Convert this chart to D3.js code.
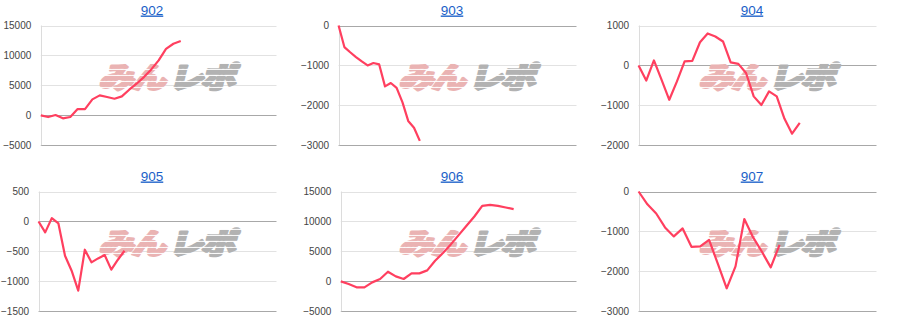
<!DOCTYPE html>
<html>
<head>
<meta charset="utf-8">
<title></title>
<script src="https://cdnjs.cloudflare.com/ajax/libs/d3/7.8.5/d3.min.js"></script>
<style>
  body { margin: 0; background: #fff; }
  text { font-family: Arial, "Liberation Sans", sans-serif; }
</style>
</head>
<body>
<div id="charts"></div>
<script>
// machine numbers shown as chart titles
var titles = ["902", "903", "904", "905", "906", "907"];

// balance per game
var values902 = [0, -280, 50, -500, -280, 1050, 1050, 2670, 3330, 3060, 2780, 3170, 4280, 5280, 6390, 7670, 9170, 11100, 11950, 12400];
var values903 = [0, -540, -670, -790, -900, -1000, -940, -975, -1525, -1440, -1560, -1920, -2390, -2560, -2890];
var values904 = [0, -380, 125, -360, -860, -400, 100, 115, 580, 800, 725, 600, 75, 40, -190, -775, -990, -650, -775, -1330, -1710, -1440];
var values905 = [0, -183, 55, -33, -572, -822, -1155, -472, -683, -617, -561, -805, -639, -489];
var values906 = [0, -440, -1000, -1000, -170, 390, 1610, 830, 390, 1330, 1330, 1830, 3440, 4720, 6170, 7720, 9280, 10830, 12610, 12780, 12610, 12330, 12060];
var values907 = [0, -320, -550, -900, -1125, -925, -1385, -1375, -1210, -1815, -2425, -1875, -690, -1150, -1510, -1900, -1335];

// y axis ticks of each chart
var ticks902 = [-5000, 0, 5000, 10000, 15000];
var ticks903 = [-3000, -2000, -1000, 0];
var ticks904 = [-2000, -1000, 0, 1000];
var ticks905 = [-1500, -1000, -500, 0, 500];
var ticks906 = [-5000, 0, 5000, 10000, 15000];
var ticks907 = [-3000, -2000, -1000, 0];

// length of the x axis (in games) of each chart
var xSpans = [32, 41, 31, 36, 30, 27];

var series = [values902, values903, values904, values905, values906, values907];
var ticks = [ticks902, ticks903, ticks904, ticks905, ticks906, ticks907];

var W = 900, H = 332, panelW = 300, panelH = 166;

var svg = d3.select("#charts").append("svg")
  .attr("width", W)
  .attr("height", H);

// striped fills for the logo
var defs = svg.append("defs");
function stripes(id, color) {
  var p = defs.append("pattern")
    .attr("id", id)
    .attr("patternUnits", "userSpaceOnUse")
    .attr("width", 8)
    .attr("height", 6);
  p.append("rect").attr("width", 8).attr("height", 5).attr("fill", color);
}
stripes("pinkStripe", "#eab3b3");
stripes("grayStripe", "#b2b2b2");

titles.forEach(function(title, i) {
  var col = i % 3, row = Math.floor(i / 3);
  var g = svg.append("g")
    .attr("transform", "translate(" + (col * panelW) + "," + (row * panelH) + ")");

  var tk = ticks[i];

  // measure widest label to place the chart area
  var probe = g.append("text").style("font-size", "10px");
  var maxW = 0;
  tk.forEach(function(t) {
    probe.text(t);
    maxW = Math.max(maxW, probe.node().getComputedTextLength());
  });
  probe.remove();

  var left = 13 + maxW, right = 276.5, top = 25.5, bottom = 145.3;

  var x = d3.scaleLinear().domain([0, xSpans[i]]).range([left, right]);
  var y = d3.scaleLinear().domain([tk[0], tk[tk.length - 1]]).range([bottom, top]);

  // gridlines
  g.selectAll(".grid")
    .data(tk)
    .enter().append("line")
    .attr("x1", left)
    .attr("x2", right)
    .attr("y1", function(d) { return Math.round(y(d)) + 0.5; })
    .attr("y2", function(d) { return Math.round(y(d)) + 0.5; })
    .attr("stroke", function(d, j) { return (d === 0 || j === 0) ? "#a8a8a8" : "#e2e2e2"; })
    .attr("stroke-width", 1);

  // vertical axis line
  g.append("line")
    .attr("x1", Math.round(left) + 0.5)
    .attr("x2", Math.round(left) + 0.5)
    .attr("y1", top)
    .attr("y2", bottom)
    .attr("stroke", "#dcdcdc");

  // y axis labels
  var axis = d3.axisLeft(y).tickValues(tk).tickSize(0).tickPadding(9.5).tickFormat(d3.format("d"));
  var ax = g.append("g")
    .attr("transform", "translate(" + left + ",0)")
    .call(axis);
  ax.select(".domain").remove();
  ax.selectAll("text")
    .style("font-size", "10px")
    .style("font-family", "Arial, 'Liberation Sans', sans-serif")
    .attr("fill", "#444");

  // watermark logo
  var logo = g.append("g")
    .attr("transform", "translate(166,88) skewX(-14) scale(1.2,1)");
  logo.append("text")
    .attr("text-anchor", "end")
    .attr("x", -2)
    .style("font-family", "'Noto Sans CJK JP', sans-serif")
    .style("font-weight", 900)
    .style("font-size", "29px")
    .style("letter-spacing", "-2px")
    .attr("fill", "url(#pinkStripe)")
    .attr("stroke", "url(#pinkStripe)")
    .attr("stroke-width", 2.6)
    .attr("stroke-linejoin", "round")
    .text("みん");
  logo.append("text")
    .attr("text-anchor", "start")
    .attr("x", 2)
    .style("font-family", "'Noto Sans CJK JP', sans-serif")
    .style("font-weight", 900)
    .style("font-size", "29px")
    .style("letter-spacing", "-2px")
    .attr("fill", "url(#grayStripe)")
    .attr("stroke", "url(#grayStripe)")
    .attr("stroke-width", 2.6)
    .attr("stroke-linejoin", "round")
    .text("レポ");

  // series line
  var line = d3.line()
    .x(function(d, j) { return x(j); })
    .y(function(d) { return y(d); });
  g.append("path")
    .datum(series[i])
    .attr("d", line)
    .attr("fill", "none")
    .attr("stroke", "#ff3f5f")
    .attr("stroke-width", 2.2)
    .attr("stroke-linejoin", "round");

  // title
  g.append("text")
    .attr("x", 152)
    .attr("y", 14.5)
    .attr("text-anchor", "middle")
    .style("font-size", "13.5px")
    .style("text-decoration", "underline")
    .attr("fill", "#1a5fc8")
    .text(title);
});
</script>
</body>
</html>
